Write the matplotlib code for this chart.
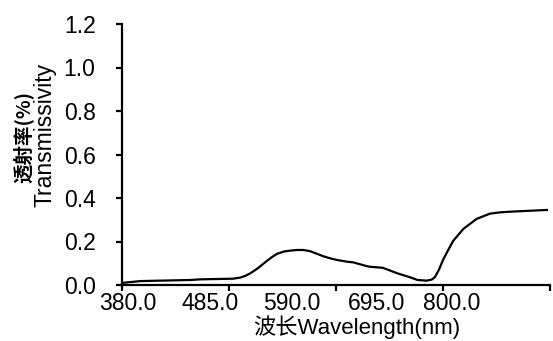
import matplotlib
matplotlib.use("Agg")
import matplotlib.pyplot as plt

plt.rcParams['font.family'] = ['Liberation Sans', 'Noto Sans CJK SC', 'DejaVu Sans']

# data (wavelength axis in the units of the tick marks)
wavelength = [381, 398, 447, 457, 489, 496, 501, 506, 513, 518, 522, 527, 532, 539, 545,
              552, 558, 565, 577, 584, 591, 601, 607, 620, 623, 636, 650, 663, 670, 679,
              684, 687, 691, 695, 700, 705, 715, 728, 741, 751, 761, 774, 797]
transmissivity = [0.010, 0.018, 0.023, 0.026, 0.029, 0.034, 0.042, 0.054, 0.076, 0.095,
                  0.110, 0.128, 0.143, 0.154, 0.158, 0.161, 0.161, 0.155, 0.133, 0.123,
                  0.115, 0.107, 0.104, 0.087, 0.084, 0.079, 0.054, 0.035, 0.023, 0.020,
                  0.025, 0.036, 0.070, 0.115, 0.160, 0.203, 0.258, 0.304, 0.328, 0.334,
                  0.337, 0.340, 0.345]
x_ticks = [380, 485, 590, 695, 800]
x_label_pos = [386, 466, 547, 630, 704]
x_tick_labels = ["380.0", "485.0", "590.0", "695.0", "800.0"]
y_ticks = [0.0, 0.2, 0.4, 0.6, 0.8, 1.0, 1.2]

fig = plt.figure(figsize=(5.53, 3.41), dpi=100)
ax = fig.add_axes([122/553, 56/341, 428/553, 261/341])

ax.plot(wavelength, transmissivity, color='black', lw=1.6, solid_joinstyle='round')

ax.set_xlim(380, 800)
ax.set_ylim(0, 1.2)
for s in ['top', 'right']:
    ax.spines[s].set_visible(False)
for s in ['left', 'bottom']:
    ax.spines[s].set_linewidth(1.6)

ax.set_xticks(x_ticks)
ax.set_xticklabels([])
ax.set_xticks(x_label_pos, minor=True)
ax.set_xticklabels(x_tick_labels, minor=True, fontsize=16.5)
ax.tick_params(axis='x', which='major', length=4, width=1.6, direction='out')
ax.tick_params(axis='x', which='minor', length=0, pad=5)

ax.set_yticks(y_ticks)
ax.set_yticklabels([f"{v:.1f}" for v in y_ticks], fontsize=16.5)
ax.tick_params(axis='y', which='major', length=4, width=1.6, direction='out', pad=15)

fig.text(24/553, 1 - 137/341, "透射率(%)", rotation=90, ha='center', va='center',
         fontsize=14, family=['Noto Sans CJK SC', 'DejaVu Sans'], fontweight='bold')
fig.text(45/553, 1 - 135/341, "Transmissivity", rotation=90, ha='center', va='center',
         fontsize=16.5)
fig.text(357/553, 1 - 327/341, "波长Wavelength(nm)", ha='center', va='center',
         fontsize=16, family=['Liberation Sans', 'Noto Sans CJK SC'])

fig.savefig("out.png", dpi=100)
